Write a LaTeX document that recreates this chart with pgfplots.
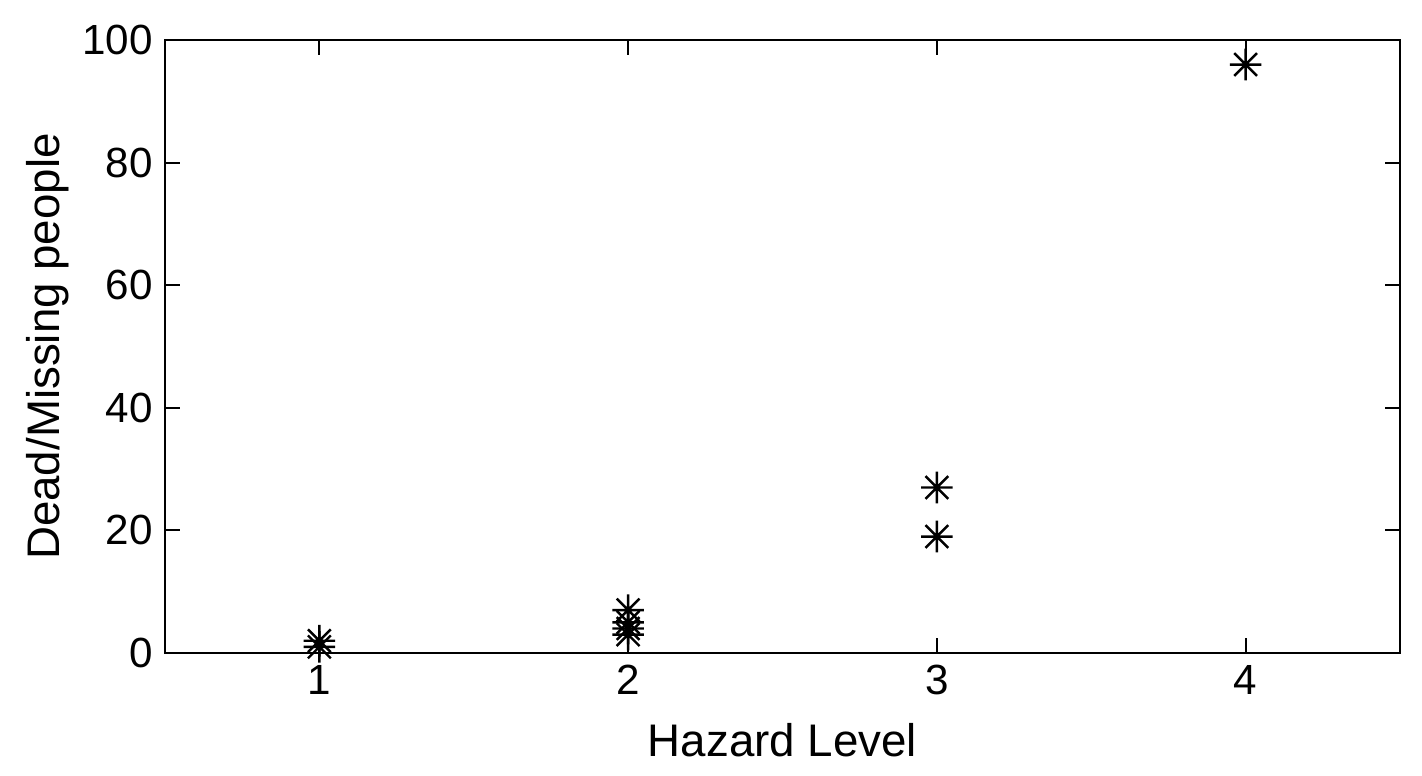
\documentclass[border=0pt]{standalone}
\usepackage{pgfplots}
\pgfplotsset{compat=1.18}
\usepackage{fontspec}
\setmainfont{Liberation Sans}

\pgfdeclareplotmark{ast8}{%
  \pgfpathmoveto{\pgfqpoint{-\pgfplotmarksize}{0pt}}\pgfpathlineto{\pgfqpoint{\pgfplotmarksize}{0pt}}%
  \pgfpathmoveto{\pgfqpoint{0pt}{-\pgfplotmarksize}}\pgfpathlineto{\pgfqpoint{0pt}{\pgfplotmarksize}}%
  \pgfpathmoveto{\pgfqpoint{-0.72\pgfplotmarksize}{-0.72\pgfplotmarksize}}\pgfpathlineto{\pgfqpoint{0.72\pgfplotmarksize}{0.72\pgfplotmarksize}}%
  \pgfpathmoveto{\pgfqpoint{-0.72\pgfplotmarksize}{0.72\pgfplotmarksize}}\pgfpathlineto{\pgfqpoint{0.72\pgfplotmarksize}{-0.72\pgfplotmarksize}}%
  \pgfusepathqstroke}

\begin{document}
\begin{tikzpicture}
  \begin{axis}[
      scale only axis,
      width=12.35cm, height=6.13cm,
      xmin=0.5, xmax=4.5,
      ymin=0, ymax=100,
      xtick={1,2,3,4},
      ytick={0,20,40,60,80,100},
      tick align=inside,
      major tick length=0.15cm,
      tick style={black, line width=0.6pt},
      axis line style={line width=0.6pt},
      xlabel={Hazard Level},
      ylabel={Dead/Missing people},
      label style={font=\fontsize{13}{15}\selectfont},
      tick label style={font=\fontsize{12}{14}\selectfont},
      /pgf/number format/assume math mode=true,
      xlabel style={yshift=-1pt},
      ylabel style={yshift=-3pt},
    ]
    \addplot[only marks, mark=ast8, mark size=4.5pt, mark options={line width=0.7pt}] coordinates {
      (1,1) (1,2)
      (2,3) (2,4) (2,5) (2,7)
      (3,19) (3,27)
      (4,96)};
  \end{axis}
  % page margins around the axis box, as in the reference
  \path (current axis.north east) ++(0.22cm,0.4cm);
  \path (current axis.south west) ++(-1.65cm,-1.23cm);
\end{tikzpicture}
\end{document}
